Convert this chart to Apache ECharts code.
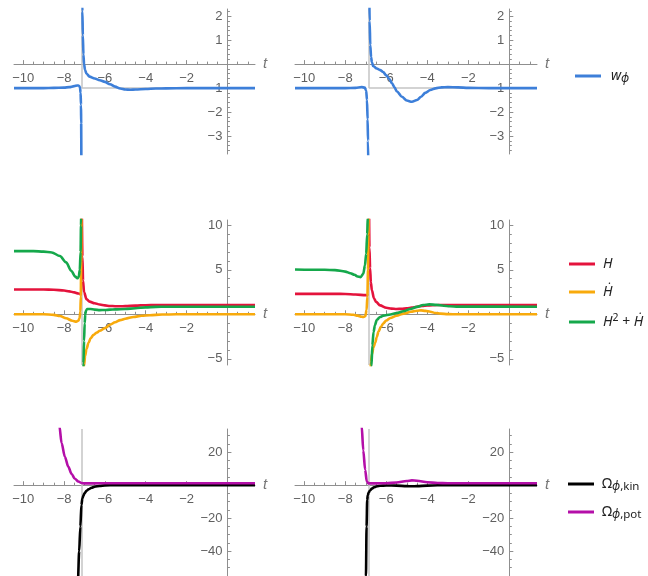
<!DOCTYPE html>
<html>
<head>
<meta charset="utf-8">
<script src="https://cdn.jsdelivr.net/npm/echarts@6/dist/echarts.min.js"></script>
<style>
  html, body { margin: 0; padding: 0; background: #fff; }
  #chart { width: 648px; height: 576px; }
</style>
</head>
<body>
<div id="chart"></div>
<script>
// time range and pole position (left column, right column)
const X_MIN = -10.45
const X_MAX = 1.35
const poleT = [-7.14, -6.85]

// tick positions
const xMajor = [-10, -8, -6, -4, -2, 0]
const xLabels = [-10, -8, -6, -4, -2]
const yMajorRows = [[-3, -2, -1, 0, 1, 2], [-5, 0, 5, 10], [-40, -20, 0, 20]]
const yLabelRows = [[-3, -2, -1, 1, 2], [-5, 5, 10], [-40, -20, 20]]
const yMinorStep = [0.2, 1, 5]
const yRanges = [[-3.75, 2.3], [-5.7, 10.6], [-55, 34]]

// row 1: w_phi, branches before / after the pole
const wL1 = [[-10.45, -1.0], [-9, -1.0], [-8.5, -0.99], [-8, -0.98], [-7.75, -0.96], [-7.5, -0.92], [-7.35, -0.89], [-7.27, -0.9], [-7.22, -0.97], [-7.19, -1.2], [-7.17, -1.7], [-7.16, -2.5], [-7.15, -4.5]]
const wL2 = [[-7.13, 3], [-7.1, 2.2], [-7.08, 1.2], [-7.05, 0.4], [-7.02, 0.0], [-6.97, -0.25], [-6.9, -0.4], [-6.75, -0.52], [-6.5, -0.6], [-6.25, -0.67], [-6.0, -0.74], [-5.75, -0.84], [-5.5, -0.94], [-5.25, -1.02], [-5.0, -1.06], [-4.75, -1.07], [-4.5, -1.06], [-4.0, -1.04], [-3.5, -1.02], [-3, -1.01], [-2, -1.0], [1.35, -1.0]]
const wR1 = [[-10.45, -1.0], [-8, -1.0], [-7.5, -0.99], [-7.2, -0.96], [-7.05, -0.98], [-6.98, -1.1], [-6.94, -1.5], [-6.91, -2.3], [-6.89, -3.2], [-6.87, -4.5]]
const wR2 = [[-6.83, 3], [-6.81, 1.8], [-6.78, 0.8], [-6.74, 0.3], [-6.7, 0.08], [-6.64, -0.08], [-6.46, -0.18], [-6.3, -0.25], [-6.15, -0.33], [-6.0, -0.47], [-5.85, -0.62], [-5.72, -0.8], [-5.6, -0.97], [-5.48, -1.14], [-5.24, -1.36], [-5.0, -1.52], [-4.75, -1.57], [-4.5, -1.5], [-4.3, -1.36], [-4.1, -1.2], [-3.85, -1.08], [-3.6, -1.01], [-3.3, -0.97], [-3, -0.96], [-2.5, -0.97], [-2, -0.99], [-1, -1.0], [1.35, -1.0]]

// row 2: H, Hdot, H^2 + Hdot
const HL1 = [[-10.45, 2.78], [-9, 2.78], [-8.5, 2.76], [-8, 2.68], [-7.75, 2.58], [-7.5, 2.46], [-7.3, 2.33], [-7.16, 2.22]]
const HL2 = [[-7.13, 12], [-7.1, 6.5], [-7.07, 3.8], [-7.02, 2.5], [-6.9, 1.7], [-6.75, 1.42], [-6.5, 1.24], [-6.25, 1.1], [-6.0, 1.0], [-5.75, 0.94], [-5.5, 0.91], [-5.25, 0.9], [-5.0, 0.92], [-4.5, 0.98], [-4.0, 1.02], [-3.5, 1.04], [-2, 1.05], [1.35, 1.05]]
const HdL1 = [[-10.45, 0], [-9, 0], [-8.5, -0.06], [-8.2, -0.2], [-7.9, -0.45], [-7.6, -0.72], [-7.4, -0.82], [-7.3, -0.72], [-7.24, -0.45], [-7.2, 0.3], [-7.18, 2], [-7.16, 6], [-7.15, 12]]
const HdL2 = [[-7.12, -12], [-7.06, -8], [-7.02, -5.8], [-6.97, -4.7], [-6.9, -3.9], [-6.8, -3.2], [-6.7, -2.7], [-6.55, -2.3], [-6.4, -2.05], [-6.25, -1.85], [-6.0, -1.55], [-5.75, -1.18], [-5.5, -0.9], [-5.25, -0.66], [-5.0, -0.5], [-4.6, -0.3], [-4.2, -0.17], [-3.8, -0.1], [-3.2, -0.03], [-2.5, 0], [1.35, 0]]
const H2L1 = [[-10.45, 7.1], [-9.5, 7.1], [-9, 7.05], [-8.6, 6.95], [-8.2, 6.55], [-7.9, 5.85], [-7.65, 4.9], [-7.45, 4.25], [-7.35, 4.05], [-7.28, 4.2], [-7.23, 5], [-7.19, 7], [-7.17, 10], [-7.15, 13]]
const H2L2 = [[-7.12, -12], [-7.08, -8], [-7.05, -5.5], [-7.02, -3], [-6.99, -1], [-6.96, 0.0], [-6.92, 0.45], [-6.86, 0.6], [-6.7, 0.6], [-6.5, 0.52], [-6.25, 0.47], [-6.0, 0.48], [-5.75, 0.52], [-5.5, 0.55], [-5.0, 0.6], [-4.5, 0.68], [-4.0, 0.78], [-3.5, 0.83], [-3, 0.85], [1.35, 0.85]]
const HR1 = [[-10.45, 2.3], [-8.5, 2.3], [-8, 2.28], [-7.5, 2.22], [-7.0, 2.15], [-6.88, 2.1]]
const HR2 = [[-6.84, 12], [-6.82, 7.5], [-6.79, 5.2], [-6.75, 3.6], [-6.7, 2.7], [-6.6, 1.8], [-6.5, 1.4], [-6.3, 1.0], [-6.0, 0.74], [-5.75, 0.64], [-5.5, 0.6], [-5.25, 0.61], [-5.0, 0.67], [-4.75, 0.75], [-4.5, 0.85], [-4.25, 0.95], [-4.0, 1.0], [-3.5, 1.04], [-3, 1.05], [1.35, 1.05]]
const HdR1 = [[-10.45, 0], [-8, 0], [-7.6, -0.05], [-7.4, -0.15], [-7.2, -0.28], [-7.1, -0.3], [-7.02, -0.2], [-6.96, 0.5], [-6.92, 2], [-6.89, 5], [-6.87, 9], [-6.86, 13]]
const HdR2 = [[-6.84, -12], [-6.8, -7.5], [-6.75, -5.4], [-6.7, -4.5], [-6.62, -3.7], [-6.54, -3.2], [-6.46, -2.55], [-6.38, -1.95], [-6.26, -1.4], [-6.14, -1.0], [-6.0, -0.7], [-5.8, -0.42], [-5.5, -0.16], [-5.15, 0.08], [-4.8, 0.28], [-4.5, 0.4], [-4.3, 0.44], [-4.1, 0.38], [-3.85, 0.28], [-3.6, 0.15], [-3.35, 0.07], [-3, 0.02], [-2.5, 0], [1.35, 0]]
const H2R1 = [[-10.45, 5.04], [-9, 5.0], [-8.5, 4.97], [-8, 4.8], [-7.75, 4.62], [-7.55, 4.44], [-7.4, 4.25], [-7.25, 4.18], [-7.12, 4.55], [-7.04, 5.5], [-6.98, 6.8], [-6.93, 9.0], [-6.9, 11], [-6.88, 13]]
const H2R2 = [[-6.8, -12], [-6.76, -8], [-6.72, -5.8], [-6.68, -3.5], [-6.62, -2.0], [-6.55, -1.2], [-6.46, -0.62], [-6.3, -0.3], [-6.14, -0.15], [-5.8, -0.03], [-5.5, 0.14], [-5.16, 0.34], [-4.83, 0.6], [-4.5, 0.83], [-4.2, 1.04], [-3.9, 1.12], [-3.55, 1.06], [-3.2, 0.96], [-2.9, 0.9], [-2.5, 0.86], [1.35, 0.85]]

// row 3: Omega kin / pot
const OpL = [[-10.45, 2000], [-9, 150], [-8.6, 70], [-8.4, 48], [-8.23, 36], [-8.12, 25.5], [-7.96, 17.2], [-7.79, 11.1], [-7.63, 6.8], [-7.47, 3.9], [-7.3, 2.2], [-7.14, 1.3], [-7.0, 1.1], [-6.5, 1.1], [-6, 1.2], [1.35, 1.2]]
const OkL = [[-10.45, -3000], [-8, -300], [-7.6, -140], [-7.4, -90], [-7.32, -58], [-7.26, -40], [-7.2, -25], [-7.15, -12], [-7.1, -8], [-7.05, -6.3], [-7.0, -5], [-6.9, -3.4], [-6.8, -2.5], [-6.65, -1.6], [-6.5, -1.0], [-6.25, -0.45], [-6.0, -0.15], [-5.5, 0], [1.35, 0]]
const OpR = [[-10.45, 3000], [-7.6, 200], [-7.4, 90], [-7.3, 55], [-7.2, 36], [-7.12, 21], [-7.03, 9.3], [-6.95, 2.4], [-6.87, 1.1], [-6.5, 1.1], [-6.0, 1.2], [-5.5, 1.6], [-5.0, 2.5], [-4.75, 2.9], [-4.5, 2.7], [-4.0, 1.8], [-3.5, 1.3], [-3, 1.2], [1.35, 1.2]]
const OkR = [[-10.45, -5000], [-7.1, -300], [-7.02, -90], [-6.99, -55], [-6.96, -25], [-6.93, -9], [-6.9, -6], [-6.85, -4.3], [-6.79, -3.2], [-6.7, -2.1], [-6.6, -1.3], [-6.45, -0.7], [-6.3, -0.4], [-6.0, -0.2], [-5.5, -0.3], [-5.0, -0.6], [-4.75, -0.7], [-4.5, -0.6], [-4.0, -0.3], [-3.5, -0.1], [-3, 0], [1.35, 0]]

const COLORS = { w: '#3d7fd9', H: '#e4133c', Hd: '#f8aa0c', H2: '#15a84b', Ok: '#000000', Op: '#b40fa8' }
const AXIS = '#8f8f8f'
const LABEL = '#5f5f5f'
const FONT = 'Liberation Sans, Arial, sans-serif'
const LEGEND_FONT = 'Noto Sans, DejaVu Sans, sans-serif'

const legendText = {
  w: '{it|w}{subi|ϕ}',
  H: '{it|H}',
  Hd: '{it|Ḣ}',
  H2: '{it|H}{sup|2}{n| + }{it|Ḣ}',
  Ok: '{n|Ω}{subi|ϕ}{sub|,kin}',
  Op: '{n|Ω}{subi|ϕ}{sub|,pot}',
}

const grids = [
  { left: 14, top: 9, width: 241, height: 145 },
  { left: 295, top: 9, width: 242, height: 145 },
  { left: 14, top: 220, width: 241, height: 145 },
  { left: 295, top: 220, width: 242, height: 145 },
  { left: 14, top: 429, width: 241, height: 147 },
  { left: 295, top: 429, width: 242, height: 147 },
].map((g) => Object.assign({ outerBoundsMode: 'none', containLabel: false }, g))

function minorTicks(lo, hi, step, majors) {
  const out = []
  for (let v = Math.ceil(lo / step) * step; v <= hi + 1e-9; v += step) {
    const r = Math.round(v * 1000) / 1000
    if (r > lo && r < hi && !majors.some((m) => Math.abs(m - r) < 1e-6)) out.push(r)
  }
  return out
}

function fmt(v) {
  if (v === 0) return ''
  return v < 0 ? '\u2212' + (-v) : String(v)
}

// the axes cross at t = 0 and value 0: shift them there from the grid edges
const xAxes = []
const yAxes = []
grids.forEach((g, i) => {
  const row = Math.floor(i / 2)
  const [yMin, yMax] = yRanges[row]
  const xOffset = -g.height * (0 - yMin) / (yMax - yMin)
  const yOffset = -g.width * (0 - X_MIN) / (X_MAX - X_MIN)
  const xMinor = minorTicks(X_MIN, X_MAX, 0.5, xMajor)
  const yMinor = minorTicks(yMin, yMax, yMinorStep[row], yMajorRows[row])
  xAxes.push({
    gridIndex: i, type: 'value', position: 'bottom', offset: xOffset, min: X_MIN, max: X_MAX,
    axisLine: { onZero: false, lineStyle: { color: AXIS, width: 1 } },
    axisTick: { inside: true, length: 4, customValues: xMajor, lineStyle: { color: AXIS } },
    axisLabel: { customValues: xLabels, formatter: fmt, color: LABEL, fontSize: 13, fontFamily: FONT, margin: 8 },
    splitLine: { show: false },
    name: 't', nameLocation: 'end', nameGap: 8,
    nameTextStyle: { color: '#777', fontStyle: 'italic', fontSize: 15, fontFamily: FONT },
  })
  xAxes.push({
    gridIndex: i, type: 'value', position: 'bottom', offset: xOffset, min: X_MIN, max: X_MAX,
    axisLine: { show: false, onZero: false },
    axisTick: { inside: true, length: 2.5, customValues: xMinor, lineStyle: { color: AXIS } },
    axisLabel: { show: false },
    splitLine: { show: false },
  })
  yAxes.push({
    gridIndex: i, type: 'value', position: 'left', offset: yOffset, min: yMin, max: yMax,
    axisLine: { onZero: false, lineStyle: { color: AXIS, width: 1 } },
    axisTick: { inside: true, length: 4, customValues: yMajorRows[row], lineStyle: { color: AXIS } },
    axisLabel: { customValues: yLabelRows[row], formatter: fmt, color: LABEL, fontSize: 13, fontFamily: FONT, margin: 5 },
    splitLine: { show: false },
  })
  yAxes.push({
    gridIndex: i, type: 'value', position: 'left', offset: yOffset, min: yMin, max: yMax,
    axisLine: { show: false, onZero: false },
    axisTick: { inside: true, length: 2.5, customValues: yMinor, lineStyle: { color: AXIS } },
    axisLabel: { show: false },
    splitLine: { show: false },
  })
})

function branches(a, b, pole) {
  return a.concat([[pole, null]], b)
}

function curve(panel, name, data) {
  return {
    name, type: 'line', xAxisIndex: 2 * panel, yAxisIndex: 2 * panel,
    data, showSymbol: false, symbol: 'none', smooth: 0.3, smoothMonotone: 'x',
    connectNulls: false, clip: true, z: 10,
    lineStyle: { color: COLORS[name], width: 2.6 },
    itemStyle: { color: COLORS[name] },
  }
}

// light grey guide lines through the pole
function guide(panel, segments) {
  return {
    type: 'line', xAxisIndex: 2 * panel, yAxisIndex: 2 * panel, data: [], z: 1, silent: true,
    markLine: {
      silent: true, symbol: 'none', label: { show: false }, animation: false, z: 1,
      lineStyle: { color: '#c4c4c4', width: 1.5, type: 'solid' },
      data: segments.map((s) => [{ coord: s[0] }, { coord: s[1] }]),
    },
  }
}

const series = [
  guide(0, [[[poleT[0], yRanges[0][1]], [poleT[0], -1]], [[poleT[0], -1], [X_MAX, -1]]]),
  guide(1, [[[poleT[1], yRanges[0][1]], [poleT[1], -1]], [[poleT[1], -1], [X_MAX, -1]]]),
  guide(2, [[[poleT[0], yRanges[1][1]], [poleT[0], yRanges[1][0]]]]),
  guide(3, [[[poleT[1], yRanges[1][1]], [poleT[1], yRanges[1][0]]]]),
  guide(4, [[[poleT[0], yRanges[2][1]], [poleT[0], yRanges[2][0]]]]),
  guide(5, [[[poleT[1], yRanges[2][1]], [poleT[1], yRanges[2][0]]]]),
  curve(0, 'w', branches(wL1, wL2, poleT[0])),
  curve(1, 'w', branches(wR1, wR2, poleT[1])),
  curve(2, 'H', branches(HL1, HL2, poleT[0])),
  curve(2, 'Hd', branches(HdL1, HdL2, poleT[0])),
  curve(2, 'H2', branches(H2L1, H2L2, poleT[0])),
  curve(3, 'H', branches(HR1, HR2, poleT[1])),
  curve(3, 'Hd', branches(HdR1, HdR2, poleT[1])),
  curve(3, 'H2', branches(H2R1, H2R2, poleT[1])),
  curve(4, 'Ok', OkL),
  curve(4, 'Op', OpL),
  curve(5, 'Ok', OkR),
  curve(5, 'Op', OpR),
]

const rich = {
  it: { fontStyle: 'italic', fontSize: 14, fontFamily: LEGEND_FONT, color: '#222', lineHeight: 18 },
  n: { fontSize: 14, fontFamily: LEGEND_FONT, color: '#222', lineHeight: 18 },
  sub: { fontSize: 11.5, fontFamily: LEGEND_FONT, color: '#222', lineHeight: 18, verticalAlign: 'bottom' },
  subi: { fontSize: 12, fontStyle: 'italic', fontFamily: LEGEND_FONT, color: '#222', lineHeight: 18, verticalAlign: 'bottom' },
  sup: { fontSize: 10.5, fontFamily: LEGEND_FONT, color: '#222', lineHeight: 18, verticalAlign: 'top' },
}

function legend(names, left, top, gap, textGap) {
  return {
    data: names, left, top, orient: 'vertical', itemGap: gap, itemWidth: 26, itemHeight: 3,
    icon: 'rect', selectedMode: false, padding: 0,
    formatter: (name) => legendText[name],
    textStyle: { rich, padding: [0, 0, 0, textGap] },
  }
}

const chart = echarts.init(document.getElementById('chart'), null, { renderer: 'canvas' })
chart.setOption({
  animation: false,
  backgroundColor: '#fff',
  grid: grids,
  xAxis: xAxes,
  yAxis: yAxes,
  legend: [
    legend(['w'], 575, 69, 10, 5),
    legend(['H', 'Hd', 'H2'], 569, 257, 14, 3),
    legend(['Ok', 'Op'], 568, 477, 12, 3),
  ],
  series,
})
</script>
</body>
</html>
